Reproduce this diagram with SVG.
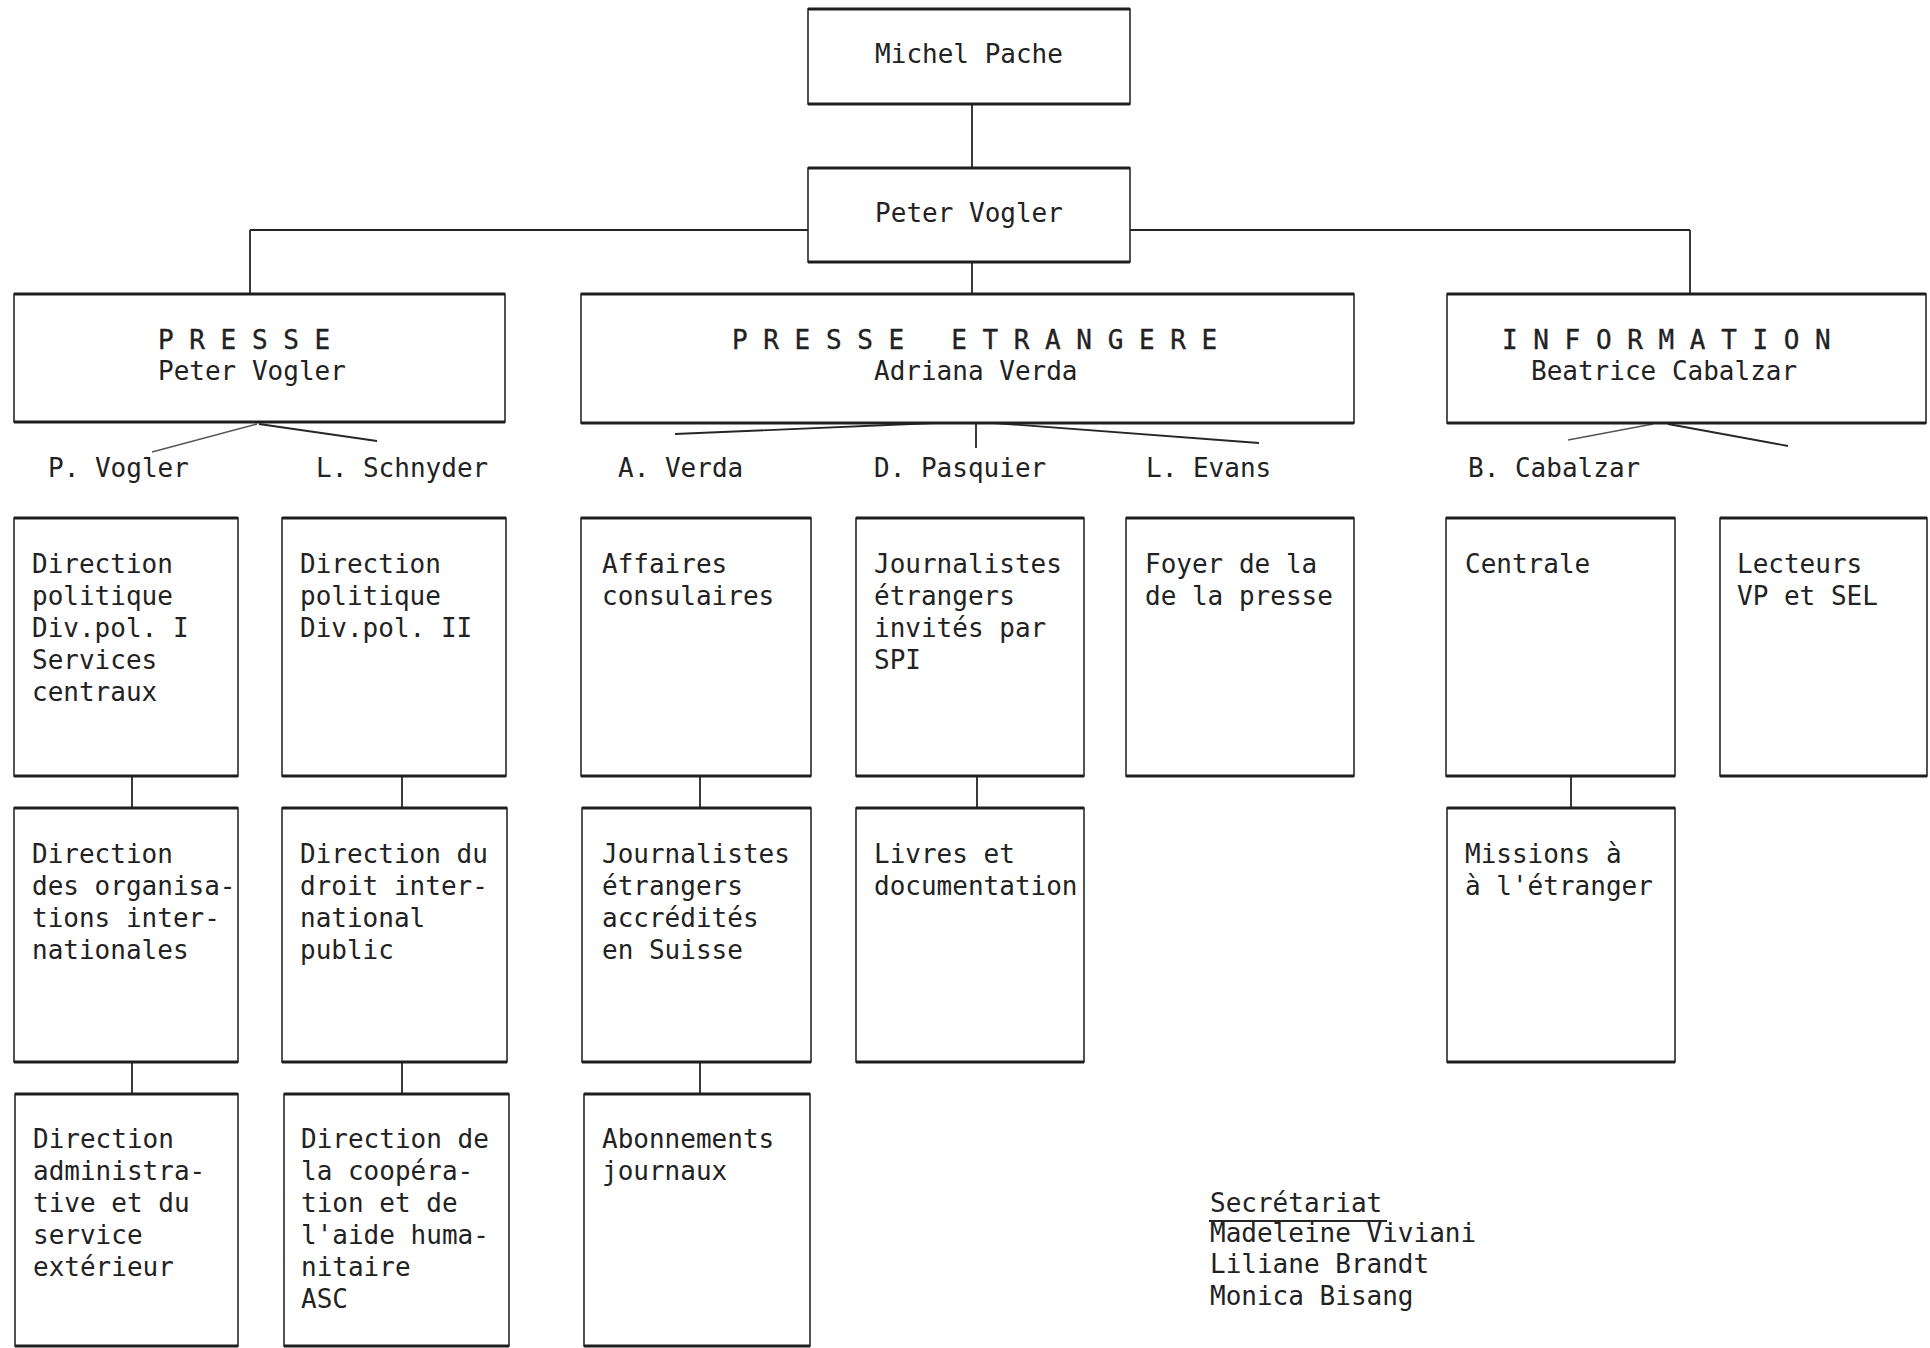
<svg xmlns="http://www.w3.org/2000/svg" width="1930" height="1348" viewBox="0 0 1930 1348">
<style>
  .box { fill: #ffffff; stroke: #2a2a2a; stroke-width: 1.6; }
  .edge { fill: none; stroke: #1e1e1e; stroke-width: 3; }
  .con { fill: none; stroke: #262626; stroke-width: 1.8; }
  .faint { fill: none; stroke: #555555; stroke-width: 1.6; }
  text { font-family: "DejaVu Sans Mono", "Liberation Mono", monospace; font-size: 26px; fill: #222222; }
  .head { stroke: #222222; stroke-width: 0.35; }
</style>
<rect x="0" y="0" width="1930" height="1348" fill="#ffffff"/>

<g id="connectors">
  <line class="con" x1="972" y1="104" x2="972" y2="168"/>
  <line class="con" x1="250" y1="230" x2="808" y2="230"/>
  <line class="con" x1="1130" y1="230" x2="1690" y2="230"/>
  <line class="con" x1="250" y1="230" x2="250" y2="294"/>
  <line class="con" x1="1690" y1="230" x2="1690" y2="294"/>
  <line class="con" x1="972" y1="262" x2="972" y2="294"/>
  <line class="faint" x1="257" y1="424" x2="152" y2="452"/>
  <line class="con" x1="259" y1="424" x2="377" y2="441"/>
  <line class="con" x1="935" y1="423" x2="675" y2="434"/>
  <line class="con" x1="994" y1="423" x2="1259" y2="443"/>
  <line class="con" x1="976" y1="423" x2="976" y2="448"/>
  <line class="faint" x1="1653" y1="424" x2="1568" y2="440"/>
  <line class="con" x1="1668" y1="424" x2="1788" y2="446"/>
  <line class="con" x1="132" y1="776" x2="132" y2="808"/>
  <line class="con" x1="132" y1="1062" x2="132" y2="1094"/>
  <line class="con" x1="402" y1="776" x2="402" y2="808"/>
  <line class="con" x1="402" y1="1062" x2="402" y2="1094"/>
  <line class="con" x1="700" y1="776" x2="700" y2="808"/>
  <line class="con" x1="700" y1="1062" x2="700" y2="1094"/>
  <line class="con" x1="977" y1="776" x2="977" y2="808"/>
  <line class="con" x1="1571" y1="776" x2="1571" y2="808"/>
</g>

<g id="michel-pache">
  <rect class="box" x="808" y="9" width="322" height="95"/>
  <path class="edge" d="M808 9H1130M808 104H1130"/>
  <text x="969" y="63" text-anchor="middle">Michel Pache</text>
</g>

<g id="peter-vogler">
  <rect class="box" x="808" y="168" width="322" height="94"/>
  <path class="edge" d="M808 168H1130M808 262H1130"/>
  <text x="969" y="222" text-anchor="middle">Peter Vogler</text>
</g>

<g id="presse">
  <rect class="box" x="14" y="294" width="491" height="128"/>
  <path class="edge" d="M14 294H505M14 422H505"/>
  <text class="head" x="158" y="349" xml:space="preserve">P R E S S E</text>
  <text x="158" y="380">Peter Vogler</text>
</g>

<g id="presse-etrangere">
  <rect class="box" x="581" y="294" width="773" height="129"/>
  <path class="edge" d="M581 294H1354M581 423H1354"/>
  <text class="head" x="732" y="349" xml:space="preserve">P R E S S E   E T R A N G E R E</text>
  <text x="874" y="380">Adriana Verda</text>
</g>

<g id="information">
  <rect class="box" x="1447" y="294" width="479" height="129"/>
  <path class="edge" d="M1447 294H1926M1447 423H1926"/>
  <text class="head" x="1502" y="349" xml:space="preserve">I N F O R M A T I O N</text>
  <text x="1531" y="380">Beatrice Cabalzar</text>
</g>

<g id="labels">
  <text x="48" y="477">P. Vogler</text>
  <text x="316" y="477">L. Schnyder</text>
  <text x="618" y="477">A. Verda</text>
  <text x="874" y="477">D. Pasquier</text>
  <text x="1146" y="477">L. Evans</text>
  <text x="1468" y="477">B. Cabalzar</text>
</g>

<g id="dir-politique-1">
  <rect class="box" x="14" y="518" width="224" height="258"/>
  <path class="edge" d="M14 518H238M14 776H238"/>
  <text x="32" y="573">Direction<tspan x="32" dy="32">politique</tspan><tspan x="32" dy="32">Div.pol. I</tspan><tspan x="32" dy="32">Services</tspan><tspan x="32" dy="32">centraux</tspan></text>
</g>

<g id="dir-politique-2">
  <rect class="box" x="282" y="518" width="224" height="258"/>
  <path class="edge" d="M282 518H506M282 776H506"/>
  <text x="300" y="573">Direction<tspan x="300" dy="32">politique</tspan><tspan x="300" dy="32">Div.pol. II</tspan></text>
</g>

<g id="affaires-consulaires">
  <rect class="box" x="581" y="518" width="230" height="258"/>
  <path class="edge" d="M581 518H811M581 776H811"/>
  <text x="602" y="573">Affaires<tspan x="602" dy="32">consulaires</tspan></text>
</g>

<g id="journalistes-invites">
  <rect class="box" x="856" y="518" width="228" height="258"/>
  <path class="edge" d="M856 518H1084M856 776H1084"/>
  <text x="874" y="573">Journalistes<tspan x="874" dy="32">étrangers</tspan><tspan x="874" dy="32">invités par</tspan><tspan x="874" dy="32">SPI</tspan></text>
</g>

<g id="foyer-presse">
  <rect class="box" x="1126" y="518" width="228" height="258"/>
  <path class="edge" d="M1126 518H1354M1126 776H1354"/>
  <text x="1145" y="573">Foyer de la<tspan x="1145" dy="32">de la presse</tspan></text>
</g>

<g id="centrale">
  <rect class="box" x="1446" y="518" width="229" height="258"/>
  <path class="edge" d="M1446 518H1675M1446 776H1675"/>
  <text x="1465" y="573">Centrale</text>
</g>

<g id="lecteurs">
  <rect class="box" x="1720" y="518" width="207" height="258"/>
  <path class="edge" d="M1720 518H1927M1720 776H1927"/>
  <text x="1737" y="573">Lecteurs<tspan x="1737" dy="32">VP et SEL</tspan></text>
</g>

<g id="dir-organisations">
  <rect class="box" x="14" y="808" width="224" height="254"/>
  <path class="edge" d="M14 808H238M14 1062H238"/>
  <text x="32" y="863">Direction<tspan x="32" dy="32">des organisa-</tspan><tspan x="32" dy="32">tions inter-</tspan><tspan x="32" dy="32">nationales</tspan></text>
</g>

<g id="dir-droit">
  <rect class="box" x="282" y="808" width="225" height="254"/>
  <path class="edge" d="M282 808H507M282 1062H507"/>
  <text x="300" y="863">Direction du<tspan x="300" dy="32">droit inter-</tspan><tspan x="300" dy="32">national</tspan><tspan x="300" dy="32">public</tspan></text>
</g>

<g id="journalistes-accredites">
  <rect class="box" x="582" y="808" width="229" height="254"/>
  <path class="edge" d="M582 808H811M582 1062H811"/>
  <text x="602" y="863">Journalistes<tspan x="602" dy="32">étrangers</tspan><tspan x="602" dy="32">accrédités</tspan><tspan x="602" dy="32">en Suisse</tspan></text>
</g>

<g id="livres">
  <rect class="box" x="856" y="808" width="228" height="254"/>
  <path class="edge" d="M856 808H1084M856 1062H1084"/>
  <text x="874" y="863">Livres et<tspan x="874" dy="32">documentation</tspan></text>
</g>

<g id="missions">
  <rect class="box" x="1447" y="808" width="228" height="254"/>
  <path class="edge" d="M1447 808H1675M1447 1062H1675"/>
  <text x="1465" y="863">Missions à<tspan x="1465" dy="32">à l'étranger</tspan></text>
</g>

<g id="dir-administrative">
  <rect class="box" x="15" y="1094" width="223" height="252"/>
  <path class="edge" d="M15 1094H238M15 1346H238"/>
  <text x="33" y="1148">Direction<tspan x="33" dy="32">administra-</tspan><tspan x="33" dy="32">tive et du</tspan><tspan x="33" dy="32">service</tspan><tspan x="33" dy="32">extérieur</tspan></text>
</g>

<g id="dir-cooperation">
  <rect class="box" x="284" y="1094" width="225" height="252"/>
  <path class="edge" d="M284 1094H509M284 1346H509"/>
  <text x="301" y="1148">Direction de<tspan x="301" dy="32">la coopéra-</tspan><tspan x="301" dy="32">tion et de</tspan><tspan x="301" dy="32">l'aide huma-</tspan><tspan x="301" dy="32">nitaire</tspan><tspan x="301" dy="32">ASC</tspan></text>
</g>

<g id="abonnements">
  <rect class="box" x="584" y="1094" width="226" height="252"/>
  <path class="edge" d="M584 1094H810M584 1346H810"/>
  <text x="602" y="1148">Abonnements<tspan x="602" dy="32">journaux</tspan></text>
</g>

<g id="secretariat">
  <text x="1210" y="1212">Secrétariat</text>
  <line class="con" x1="1209" y1="1221" x2="1387" y2="1221"/>
  <text x="1210" y="1242">Madeleine Viviani</text>
  <text x="1210" y="1273">Liliane Brandt</text>
  <text x="1210" y="1305">Monica Bisang</text>
</g>
</svg>
